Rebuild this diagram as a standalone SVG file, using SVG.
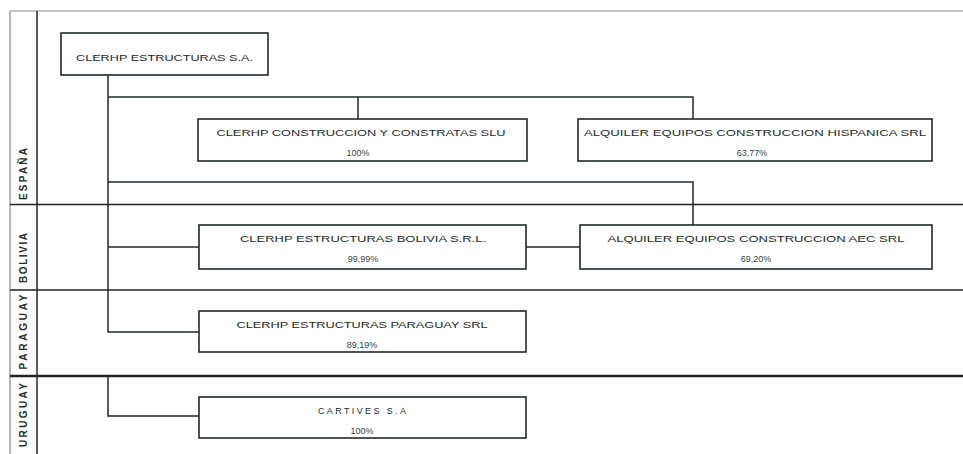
<svg xmlns="http://www.w3.org/2000/svg" width="963" height="454" viewBox="0 0 963 454">
<style>
.box{fill:#fff;stroke:#1e2a24;stroke-width:1.6}
.t{font-family:"Liberation Sans",Arial,sans-serif;font-size:9px;fill:#1c2b24;text-anchor:middle}
.p{font-family:"Liberation Sans",Arial,sans-serif;font-size:9px;fill:#3a3f3c;text-anchor:middle}
.lab{font-family:"Liberation Sans",Arial,sans-serif;font-size:10px;font-weight:bold;fill:#1f2f27;text-anchor:middle}
.grid{stroke:#222;stroke-width:1.5;fill:none}
.c{stroke:#1e2a24;stroke-width:1.5;fill:none}
</style>
<rect width="963" height="454" fill="#fff"/>
<g id="frame">
<line x1="10" y1="11" x2="963" y2="11" stroke="#8a8a8a" stroke-width="1.2"/>
<line x1="10" y1="11" x2="10" y2="454" stroke="#8a8a8a" stroke-width="1.2"/>
<line class="grid" x1="37" y1="11" x2="37" y2="454"/>
<line class="grid" x1="10" y1="204.5" x2="963" y2="204.5"/>
<line class="grid" x1="10" y1="290" x2="963" y2="290"/>
<line x1="10" y1="376" x2="963" y2="376" stroke="#222" stroke-width="2.6"/>
<text class="lab" transform="translate(27,174) rotate(-90)" textLength="52" lengthAdjust="spacing">ESPAÑA</text>
<text class="lab" transform="translate(27,258) rotate(-90)" textLength="50" lengthAdjust="spacing">BOLIVIA</text>
<text class="lab" transform="translate(27,332) rotate(-90)" textLength="75" lengthAdjust="spacing">PARAGUAY</text>
<text class="lab" transform="translate(27,415) rotate(-90)" textLength="64" lengthAdjust="spacing">URUGUAY</text>
</g>
<g id="connectors">
<path class="c" d="M108,75 V332 H199"/>
<path class="c" d="M108,97 H693 V119"/>
<path class="c" d="M358,97 V119"/>
<path class="c" d="M108,182 H693 V225"/>
<path class="c" d="M108,247 H199"/>
<path class="c" d="M526,247 H580"/>
<path class="c" d="M108,377 V416 H199"/>
</g>
<g id="n-clerhp-sa">
<rect class="box" x="61" y="33" width="207" height="42"/>
<text class="t" x="164.5" y="61" textLength="177" lengthAdjust="spacingAndGlyphs">CLERHP ESTRUCTURAS S.A.</text>
</g>
<g id="n-construccion">
<rect class="box" x="198" y="119" width="329" height="42"/>
<text class="t" x="361" y="135.5" textLength="289" lengthAdjust="spacingAndGlyphs">CLERHP CONSTRUCCION Y CONSTRATAS SLU</text>
<text class="p" x="358" y="155.5">100%</text>
</g>
<g id="n-hispanica">
<rect class="box" x="578" y="119" width="354" height="42"/>
<text class="t" x="755" y="135.5" textLength="342" lengthAdjust="spacingAndGlyphs">ALQUILER EQUIPOS CONSTRUCCION HISPANICA SRL</text>
<text class="p" x="752" y="155.5">63,77%</text>
</g>
<g id="n-bolivia">
<rect class="box" x="199" y="225" width="327" height="44"/>
<text class="t" x="363" y="241.5" textLength="246" lengthAdjust="spacingAndGlyphs">CLERHP ESTRUCTURAS BOLIVIA S.R.L.</text>
<text class="p" x="363" y="261.5">99,99%</text>
</g>
<g id="n-aec">
<rect class="box" x="580" y="225" width="352" height="44"/>
<text class="t" x="756" y="241.5" textLength="297" lengthAdjust="spacingAndGlyphs">ALQUILER EQUIPOS CONSTRUCCION AEC SRL</text>
<text class="p" x="756" y="261.5">69,20%</text>
</g>
<g id="n-paraguay">
<rect class="box" x="199" y="311" width="327" height="41"/>
<text class="t" x="362" y="327.5" textLength="251" lengthAdjust="spacingAndGlyphs">CLERHP ESTRUCTURAS PARAGUAY SRL</text>
<text class="p" x="362" y="347.5">89,19%</text>
</g>
<g id="n-uruguay">
<rect class="box" x="199" y="397" width="327" height="41"/>
<text class="t" x="362" y="413.5" textLength="88" lengthAdjust="spacing">CARTIVES S.A</text>
<text class="p" x="362" y="433.5">100%</text>
</g>
</svg>
